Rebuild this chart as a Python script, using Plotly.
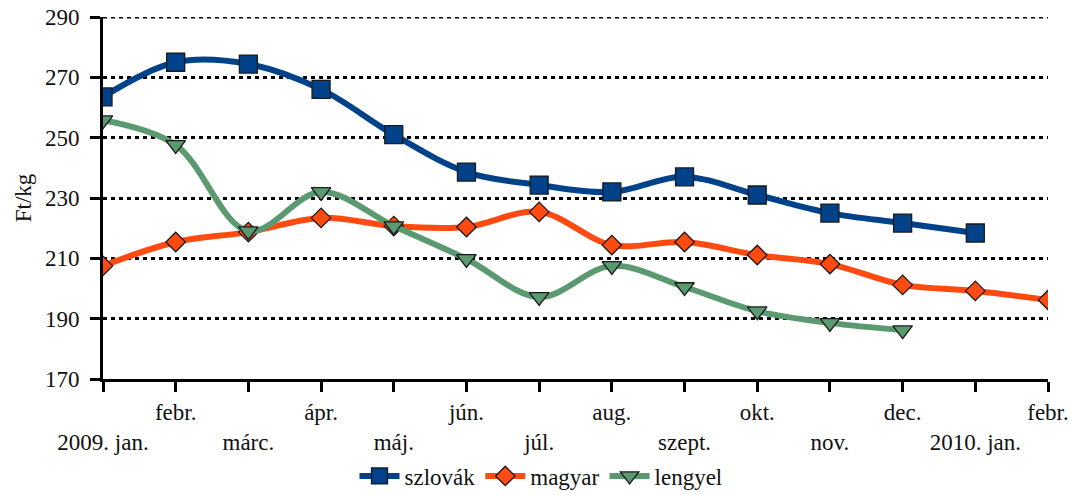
import plotly.graph_objects as go

months = ["2009. jan.", "febr.", "márc.", "ápr.", "máj.", "jún.", "júl.",
          "aug.", "szept.", "okt.", "nov.", "dec.", "2010. jan.", "febr."]
szlovak = [263.5, 275, 274.4, 266, 251, 238.6, 234.3, 232, 237, 231, 225, 221.7, 218.4]
magyar = [207.5, 215.4, 218.7, 223.4, 220.7, 220.4, 225.4, 214.4, 215.4, 211.1, 208.1, 201.2, 199.2, 196.2]
lengyel = [255.8, 247.6, 219, 232, 220.7, 209.8, 197.2, 207.5, 200.5, 192.5, 188.6, 186.2]
y_ticks = [170, 190, 210, 230, 250, 270, 290]

FONT = "Liberation Serif"
FS = 23
x_idx = list(range(len(months)))
ticktext = [m if i % 2 == 1 else "\u00a0<br>" + m for i, m in enumerate(months)]

fig = go.Figure()
series = [
    ("szlovák", szlovak, "#00428A", "square", 18),
    ("magyar", magyar, "#FF4A12", "diamond", 15),
    ("lengyel", lengyel, "#5B9A70", "triangle-down", 17),
]
for name, vals, col, sym, size in series:
    fig.add_trace(go.Scatter(
        x=x_idx[:len(vals)], y=vals, name=name, mode="lines+markers",
        line=dict(color=col, width=6, shape="spline", smoothing=1.0),
        marker=dict(symbol=sym, size=size, color=col, line=dict(color="#1a1a1a", width=1.3)),
    ))

# top gridline (plotly omits the gridline at the range edge)
fig.add_shape(type="line", xref="paper", x0=0, x1=1, yref="y", y0=y_ticks[-1], y1=y_ticks[-1],
              line=dict(color="black", width=3, dash="4px,4px"), layer="below")

W, H = 1082, 495
fig.update_layout(
    width=W, height=H,
    margin=dict(l=103, r=W - 1048, t=17, b=H - 379, autoexpand=False),
    paper_bgcolor="white", plot_bgcolor="white",
    font=dict(family=FONT, size=FS, color="#111"),
    showlegend=True,
    legend=dict(orientation="h", x=541 / W, xanchor="center", xref="container",
                y=1 - 476 / H, yanchor="middle", yref="container",
                font=dict(family=FONT, size=FS), itemwidth=40, tracegroupgap=0),
)
fig.update_xaxes(
    range=[0, 13], tickmode="array", tickvals=x_idx, ticktext=ticktext,
    showgrid=False, zeroline=False, showline=True, linecolor="black", linewidth=3,
    ticks="outside", ticklen=10, tickwidth=3, tickcolor="black",
    tickfont=dict(family=FONT, size=FS), automargin=False, ticklabeloverflow="allow",
)
fig.update_yaxes(
    range=[170, 290], tickmode="array", tickvals=y_ticks,
    showgrid=True, gridcolor="black", gridwidth=3, griddash="4px,4px",
    zeroline=False, showline=True, linecolor="black", linewidth=3,
    ticks="outside", ticklen=10, tickwidth=3, tickcolor="black", ticklabelstandoff=6,
    ticklabeloverflow="allow",
    title=dict(text="Ft/kg", font=dict(family=FONT, size=FS), standoff=7),
    tickfont=dict(family=FONT, size=FS), automargin=False,
)
fig.write_html("out.html", config={"displayModeBar": False},
               post_script="document.body.style.margin='0';")
